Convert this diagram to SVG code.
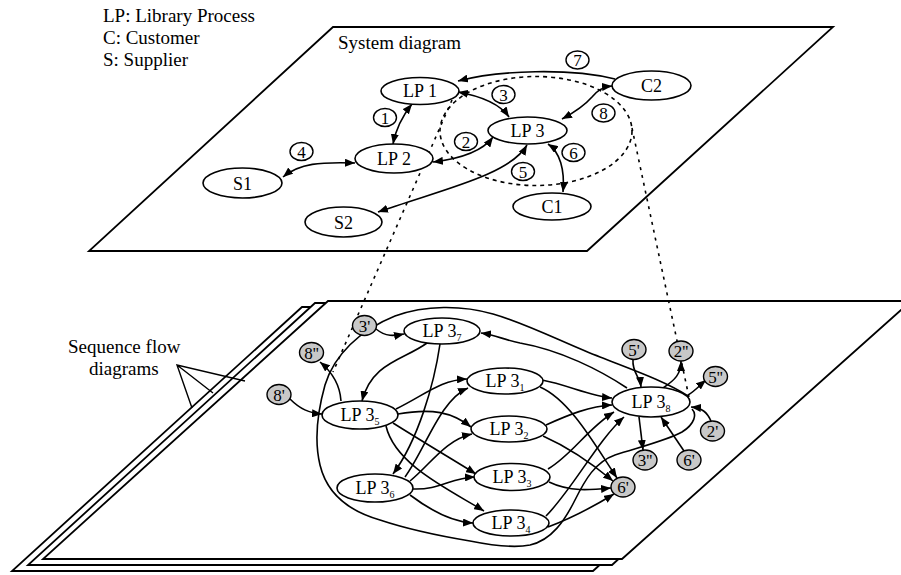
<svg xmlns="http://www.w3.org/2000/svg" width="901" height="575" viewBox="0 0 901 575">
<defs>
<marker id="ah" viewBox="0 0 10 8" refX="10" refY="4" markerWidth="10" markerHeight="8" markerUnits="userSpaceOnUse" orient="auto-start-reverse"><path d="M0,0 L10,4 L0,8 z" fill="#000"/></marker>
</defs>
<style>
text{font-family:"Liberation Serif","Times New Roman",serif;fill:#000}
.plane{fill:#fff;stroke:#000;stroke-width:1.8}
.n{fill:#fff;stroke:#000;stroke-width:1.6}
.c{fill:#fff;stroke:#000;stroke-width:1.4}
.g{fill:#c8c8c8;stroke:#000;stroke-width:1.4}
.e{fill:none;stroke:#000;stroke-width:1.6}
.a{marker-end:url(#ah)}
.d{marker-start:url(#ah);marker-end:url(#ah)}
.dash{fill:none;stroke:#000;stroke-width:1.6;stroke-dasharray:4 4}
.dot{fill:none;stroke:#000;stroke-width:1.6;stroke-dasharray:3 5}
.nt{font-size:18px;text-anchor:middle}
.ct{font-size:17px;text-anchor:middle}
.lab{font-size:19px}
.thin{fill:none;stroke:#000;stroke-width:1.4}
</style>

<g id="legend">
<text class="lab" x="103" y="22">LP: Library Process</text>
<text class="lab" x="103" y="44">C: Customer</text>
<text class="lab" x="103" y="66">S: Supplier</text>
</g>

<g id="top-plane">
<polygon class="plane" points="333,27 833,27 587,251 89,251"/>
<text class="lab" x="338" y="49">System diagram</text>
</g>

<g id="bottom-planes">
<polygon class="plane" points="302,307 885,307 593,571 12,571"/>
<polygon class="plane" points="315,303 898,303 612,565 28,565"/>
<polygon class="plane" points="328,301 911,301 622,559 43,559"/>
</g>

<g id="seq-label">
<text class="lab" x="68" y="353">Sequence flow</text>
<text class="lab" x="89" y="375">diagrams</text>
<path class="thin" d="M245,381 L177,365 L192,408 M177,365 L213,393"/>
</g>

<g id="connectors">
<ellipse class="dash" cx="536" cy="131" rx="96" ry="54.5"/>
<path class="dot" d="M452,100 L333,372"/>
<path class="dot" d="M632,128 L690,402"/>

<path class="e d" d="M412,104 C404,114 396,128 393,144"/>
<path class="e d" d="M283,177 C300,163 320,162 355,163"/>
<path class="e d" d="M433,162 C458,159 482,152 493,137"/>
<path class="e d" d="M458,92 C480,96 500,104 509,117"/>
<path class="e d" d="M378,212 C440,190 510,175 527,145"/>
<path class="e d" d="M548,144 C560,152 565,170 563,192"/>
<path class="e a" d="M615,79 C570,68 500,70 458,81"/>
<path class="e d" d="M562,119 C575,112 585,105 592,97 C597,91 602,87 612,86"/>

<path class="e" d="M688,396 C665,381 630,369 600,357 C568,345 528,324 493,314 C462,305 425,305 395,316 C360,330 334,355 325,385 C318,410 314,440 320,465 C326,490 345,510 380,520 C410,530 440,536 470,541 C495,546 515,548 530,545 C552,540 565,520 575,500 C585,480 595,462 615,455 C640,447 668,440 682,432 C695,424 697,414 692,409"/>

<path class="e a" d="M376,329 C386,337 394,336 404,334"/>
<path class="e a" d="M341,401 C340,385 332,372 320,362"/>
<path class="e a" d="M290,399 C300,409 309,413 322,414"/>
<path class="e a" d="M427,343 C404,360 372,362 362,401"/>
<path class="e a" d="M440,344 C434,385 418,440 393,474"/>
<path class="e a" d="M396,409 C425,395 440,380 467,379"/>
<path class="e a" d="M398,414 C432,408 452,412 471,427"/>
<path class="e a" d="M393,423 C420,440 450,458 476,474"/>
<path class="e a" d="M386,426 C395,465 450,490 484,511"/>
<path class="e a" d="M405,477 C425,450 440,400 468,388"/>
<path class="e a" d="M410,481 C430,465 445,440 472,434"/>
<path class="e a" d="M413,489 C440,490 450,478 475,477"/>
<path class="e a" d="M410,495 C430,510 452,522 473,523"/>
<path class="e a" d="M542,380 C568,385 590,396 612,398"/>
<path class="e a" d="M540,387 C570,400 595,445 617,478"/>
<path class="e a" d="M546,425 C568,415 590,406 612,405"/>
<path class="e a" d="M543,436 C570,448 595,466 613,481"/>
<path class="e a" d="M548,469 C572,455 588,428 614,412"/>
<path class="e a" d="M549,482 C570,492 590,490 611,488"/>
<path class="e a" d="M546,516 C572,490 598,440 624,417"/>
<path class="e a" d="M548,527 C572,518 596,505 614,494"/>
<path class="e a" d="M627,388 C600,370 560,350 520,343 C505,340 495,335 481,333"/>
<path class="e a" d="M633,360 C632,372 640,377 641,387"/>
<path class="e a" d="M663,388 C675,380 681,374 681,361"/>
<path class="e a" d="M688,395 C695,391 700,385 706,380"/>
<path class="e a" d="M711,421 C707,412 702,408 691,407"/>
<path class="e a" d="M684,451 L661,417"/>
<path class="e a" d="M639,417 L643,450"/>
</g>

<g id="LP1"><ellipse class="n" cx="420" cy="91" rx="39" ry="13.5"/><text class="nt" x="420" y="97">LP 1</text></g>
<g id="LP2"><ellipse class="n" cx="394" cy="158.5" rx="39" ry="14.5"/><text class="nt" x="394" y="165">LP 2</text></g>
<g id="LP3"><ellipse class="n" cx="527.5" cy="130.5" rx="39.5" ry="13.5"/><text class="nt" x="527.5" y="137">LP 3</text></g>
<g id="C2"><ellipse class="n" cx="651.5" cy="85.5" rx="39.5" ry="14.5"/><text class="nt" x="651.5" y="92">C2</text></g>
<g id="C1"><ellipse class="n" cx="552" cy="206.5" rx="39" ry="13.5"/><text class="nt" x="552" y="213">C1</text></g>
<g id="S1"><ellipse class="n" cx="242.5" cy="183" rx="39.5" ry="15"/><text class="nt" x="242.5" y="189.5">S1</text></g>
<g id="S2"><ellipse class="n" cx="343.5" cy="222" rx="38.5" ry="15"/><text class="nt" x="343.5" y="228.5">S2</text></g>

<g id="n1"><ellipse class="c" cx="385" cy="117.5" rx="11.5" ry="9"/><text class="ct" x="385" y="123.5">1</text></g>
<g id="n2"><ellipse class="c" cx="466" cy="141.5" rx="11.5" ry="9"/><text class="ct" x="466" y="147.5">2</text></g>
<g id="n3"><ellipse class="c" cx="503.5" cy="94.5" rx="11.5" ry="9"/><text class="ct" x="503.5" y="100.5">3</text></g>
<g id="n4"><ellipse class="c" cx="301.5" cy="151.5" rx="11.5" ry="9"/><text class="ct" x="301.5" y="157.5">4</text></g>
<g id="n5"><ellipse class="c" cx="523" cy="171.5" rx="11.5" ry="9"/><text class="ct" x="523" y="177.5">5</text></g>
<g id="n6"><ellipse class="c" cx="573.5" cy="152.5" rx="11.5" ry="9"/><text class="ct" x="573.5" y="158.5">6</text></g>
<g id="n7"><ellipse class="c" cx="577.5" cy="60" rx="11.5" ry="9"/><text class="ct" x="577.5" y="66">7</text></g>
<g id="n8"><ellipse class="c" cx="603.5" cy="113" rx="11.5" ry="9"/><text class="ct" x="603.5" y="119">8</text></g>

<g id="LP3_7"><ellipse class="n" cx="442" cy="331" rx="38" ry="13"/><text class="nt" x="442" y="337">LP 3<tspan font-size="10" dy="4">7</tspan></text></g>
<g id="LP3_5"><ellipse class="n" cx="360" cy="415" rx="38" ry="14"/><text class="nt" x="360" y="421">LP 3<tspan font-size="10" dy="4">5</tspan></text></g>
<g id="LP3_6"><ellipse class="n" cx="375" cy="488" rx="38" ry="14"/><text class="nt" x="375" y="494">LP 3<tspan font-size="10" dy="4">6</tspan></text></g>
<g id="LP3_1"><ellipse class="n" cx="505" cy="381" rx="38" ry="13"/><text class="nt" x="505" y="387">LP 3<tspan font-size="10" dy="4">1</tspan></text></g>
<g id="LP3_2"><ellipse class="n" cx="509" cy="429" rx="38" ry="13"/><text class="nt" x="509" y="435">LP 3<tspan font-size="10" dy="4">2</tspan></text></g>
<g id="LP3_3"><ellipse class="n" cx="512" cy="477" rx="38" ry="13.5"/><text class="nt" x="512" y="483">LP 3<tspan font-size="10" dy="4">3</tspan></text></g>
<g id="LP3_4"><ellipse class="n" cx="511" cy="523" rx="38" ry="13"/><text class="nt" x="511" y="529">LP 3<tspan font-size="10" dy="4">4</tspan></text></g>
<g id="LP3_8"><ellipse class="n" cx="651" cy="402" rx="39" ry="15"/><text class="nt" x="651" y="408">LP 3<tspan font-size="10" dy="4">8</tspan></text></g>

<g id="p3a"><ellipse class="g" cx="364.5" cy="325.5" rx="12" ry="10"/><text class="ct" x="364.5" y="331.5">3'</text></g>
<g id="p8b"><ellipse class="g" cx="311.5" cy="352.5" rx="12" ry="10"/><text class="ct" x="311.5" y="358.5">8''</text></g>
<g id="p8a"><ellipse class="g" cx="279" cy="394.5" rx="12" ry="10"/><text class="ct" x="279" y="400.5">8'</text></g>
<g id="p5a"><ellipse class="g" cx="634" cy="349.5" rx="12" ry="10"/><text class="ct" x="634" y="355.5">5'</text></g>
<g id="p2b"><ellipse class="g" cx="681" cy="351" rx="12" ry="10"/><text class="ct" x="681" y="357">2''</text></g>
<g id="p5b"><ellipse class="g" cx="715.5" cy="376.5" rx="12" ry="10"/><text class="ct" x="715.5" y="382.5">5''</text></g>
<g id="p2a"><ellipse class="g" cx="712.5" cy="431" rx="12" ry="10"/><text class="ct" x="712.5" y="437">2'</text></g>
<g id="p6a"><ellipse class="g" cx="689" cy="460" rx="12" ry="10"/><text class="ct" x="689" y="466">6'</text></g>
<g id="p3b"><ellipse class="g" cx="645" cy="460" rx="12" ry="10"/><text class="ct" x="645" y="466">3''</text></g>
<g id="p6b"><ellipse class="g" cx="623" cy="487" rx="12" ry="10"/><text class="ct" x="623" y="493">6'</text></g>
</svg>
